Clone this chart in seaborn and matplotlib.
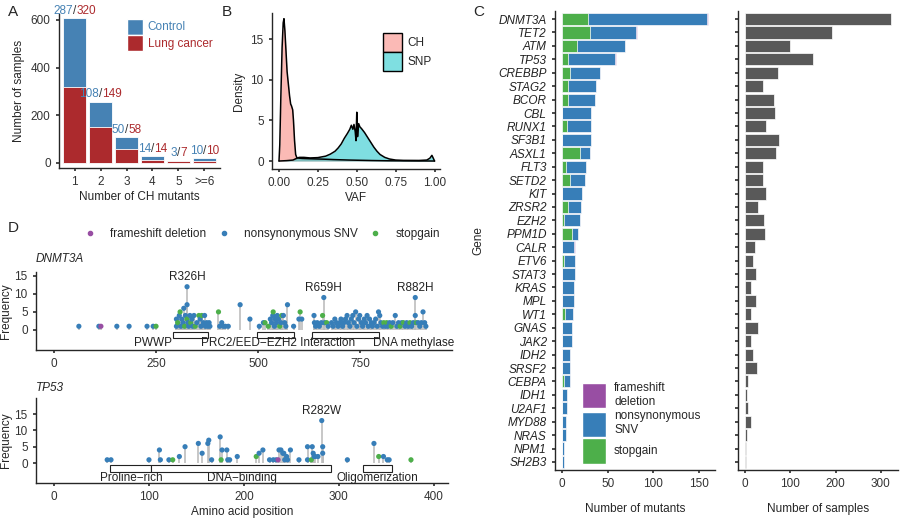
import pandas as pd
import matplotlib.pyplot as plt
import seaborn as sns
from matplotlib.patches import Patch, Rectangle
from matplotlib.lines import Line2D

# ---- Panel A: number of CH mutants per sample
ch_bins = ['1', '2', '3', '4', '5', '>=6']
control_n = [287, 108, 50, 14, 3, 10]
lung_n = [320, 149, 58, 14, 7, 10]

# ---- Panel B: VAF density curves
ch_vaf = [0.0, 0.005, 0.012, 0.02, 0.027, 0.032, 0.038, 0.045, 0.052, 0.06, 0.068, 0.075,
          0.08, 0.088, 0.093, 0.1, 0.107, 0.115, 0.13, 0.15, 0.2, 0.25, 0.3, 0.35, 0.4,
          0.45, 0.5, 0.6, 0.7, 0.8, 0.9, 1.0]
ch_dens = [0.0, 2.0, 8.0, 14.0, 17.0, 17.5, 16.0, 13.5, 11.0, 9.5, 8.0, 7.0,
           6.8, 6.3, 5.0, 2.5, 0.8, 0.4, 0.35, 0.32, 0.28, 0.25, 0.22, 0.18, 0.15,
           0.12, 0.1, 0.06, 0.03, 0.02, 0.01, 0.0]
snp_vaf = [0.0, 0.05, 0.09, 0.11, 0.13, 0.16, 0.2, 0.25, 0.3, 0.33, 0.36, 0.38, 0.4,
           0.42, 0.44, 0.455, 0.465, 0.475, 0.482, 0.49, 0.495, 0.5, 0.505, 0.512,
           0.52, 0.53, 0.55, 0.57, 0.59, 0.61, 0.63, 0.65, 0.68, 0.71, 0.75, 0.8,
           0.9, 0.95, 0.97, 0.983, 0.993, 1.0]
snp_dens = [0.0, 0.05, 0.12, 0.3, 0.45, 0.45, 0.38, 0.42, 0.6, 0.85, 1.2, 1.6, 2.1,
            2.8, 3.4, 3.9, 4.4, 3.9, 4.5, 3.6, 2.5, 6.0, 3.0, 4.6, 4.2, 4.0, 3.5,
            2.9, 2.3, 1.7, 1.2, 0.8, 0.45, 0.25, 0.12, 0.08, 0.07, 0.12, 0.35,
            0.7, 0.3, 0.0]

# ---- Panel C: mutated genes
genes = ['DNMT3A', 'TET2', 'ATM', 'TP53', 'CREBBP', 'STAG2', 'BCOR', 'CBL', 'RUNX1',
         'SF3B1', 'ASXL1', 'FLT3', 'SETD2', 'KIT', 'ZRSR2', 'EZH2', 'PPM1D', 'CALR',
         'ETV6', 'STAT3', 'KRAS', 'MPL', 'WT1', 'GNAS', 'JAK2', 'IDH2', 'SRSF2',
         'CEBPA', 'IDH1', 'U2AF1', 'MYD88', 'NRAS', 'NPM1', 'SH2B3']
n_stopgain = [28, 31, 16, 6, 9, 6, 6, 0, 5, 0, 19, 4, 8, 0, 6, 2, 11, 0,
              2, 0, 0, 0, 3, 0, 0, 0, 0, 2, 0, 0, 0, 0, 0, 0]
n_nonsyn = [131, 50, 53, 52, 33, 31, 30, 32, 27, 32, 11, 22, 17, 22, 15, 17, 6, 13,
            12, 14, 13, 13, 9, 11, 11, 9, 9, 6, 5, 5, 4, 4, 2, 2]
n_frameshift = [1, 1, 0, 1, 0, 0, 0, 0, 0, 0, 0, 0, 0, 0, 0, 0, 0, 1,
                0, 0, 0, 0, 0, 0, 0, 0, 0, 0, 0, 0, 0, 0, 0, 0]
n_samples = [322, 192, 100, 150, 73, 40, 64, 65, 45, 74, 67, 40, 40, 46, 28, 41, 43, 21,
             18, 23, 12, 24, 12, 29, 12, 18, 25, 7, 4, 6, 13, 4, 1.5, 1.5]

# ---- Panel D: lollipops (n = nonsynonymous SNV, s = stopgain, f = frameshift deletion)
dnmt3a_pos = [61, 110, 115, 154, 184, 228, 243, 250,
              300, 300, 303, 307, 309, 311, 313, 316, 318, 320, 322, 326, 326, 326, 328,
              330, 333, 335, 338, 340, 343, 346, 350, 355, 358, 360, 362, 366, 369, 371,
              374, 377, 380, 382,
              403, 406, 411, 415, 420, 427, 456, 480,
              503, 513, 517, 525, 530, 533, 536, 537, 540, 542, 545, 547, 550, 553, 556,
              558, 562, 565, 568, 572, 587, 600, 603, 607,
              637, 638, 641, 645, 650, 655, 658, 661, 663, 668, 672, 680, 684, 688, 692,
              696, 700, 703, 707, 710, 714, 718, 721, 725, 728, 732, 735, 739, 742, 746,
              749, 753, 756, 760, 763, 767, 770, 773, 777, 780, 784, 788, 792, 795, 798,
              801, 805, 808, 812, 815, 818, 822, 826, 830, 836, 840, 844, 848, 852, 856,
              860, 864, 868, 872, 876, 880, 885, 885, 888, 892, 896, 900, 904, 908, 911]
dnmt3a_freq = [1, 1, 1, 1, 1, 1, 1, 1,
               1, 3, 2, 4, 5, 1, 3, 2, 6, 1, 4, 12, 7, 3, 2,
               1, 4, 2, 3, 1, 4, 1, 2, 4, 3, 1, 4, 2, 4, 1,
               2, 1, 2, 1,
               5, 1, 2, 1, 1, 1, 7, 3,
               1, 2, 2, 1, 3, 2, 4, 5, 1, 3, 2, 4, 3, 1, 2,
               4, 4, 2, 1, 7, 1, 3, 5, 3,
               4, 2, 1, 2, 1, 2, 4, 9, 2, 2, 1, 2, 1, 3, 2,
               1, 2, 3, 1, 2, 3, 4, 2, 1, 3, 4, 2, 5, 1, 3,
               4, 2, 1, 3, 2, 4, 1, 3, 2, 1, 2, 3, 1, 5, 4,
               2, 1, 2, 1, 2, 1, 2, 1, 2, 4, 1, 2, 1, 2, 2,
               1, 2, 1, 2, 1, 2, 9, 4, 2, 2, 1, 2, 5, 2, 1]
dnmt3a_type = list('nnfnnnns'
                   'nnsnsnnnnsnnnsn'
                   'nnsnnnsnsnnsnnn'
                   'nnnn'
                   'snnnnnnn'
                   'nnssnnnsnnnnnsn'
                   'snnnnnnsn'
                   'nnnnnnsnnsnnnnn'
                   'nnnnnnnnnnnnnnn'
                   'nnnnnnnnnnnnnnn'
                   'nnsnsnnsnnnnsns'
                   'nnnsnnnnsnnnnnn')
dnmt3a_domains = ['PWWP', 'PRC2/EED\u2212EZH2 Interaction', 'DNA methylase']
dnmt3a_dom_start = [292, 497, 632]
dnmt3a_dom_end = [377, 588, 797]
dnmt3a_hotspots = ['R326H', 'R659H', 'R882H']
dnmt3a_hot_pos = [326, 661, 885]
dnmt3a_hot_freq = [12, 9, 9]

tp53_pos = [56, 60, 100, 111, 112, 121, 125, 132, 138, 152, 156, 162, 163, 166, 175,
            176, 177, 182, 183, 185, 193, 213, 216, 220, 227, 231, 234, 236, 237, 239,
            241, 242, 243, 245, 246, 249, 258, 267, 267, 271, 272, 273, 274, 275, 278,
            282, 283, 283, 309, 337, 342, 347, 351, 353, 376]
tp53_freq = [1, 1, 1, 4, 1, 1, 1, 2, 5, 6, 3, 6, 7, 1, 8,
             1, 4, 4, 1, 1, 2, 2, 3, 4, 1, 1, 1, 1, 4, 4,
             3, 3, 1, 2, 1, 4, 1, 5, 1, 1, 5, 3, 2, 2, 2,
             13, 5, 3, 1, 6, 2, 2, 1, 1, 1]
tp53_type = list('nnnnnnsnnnnnnnn'
                 'snnnnnsnnnnnfnn'
                 'nnnnnnnnnsnnnnn'
                 'nnnnnsnnns')
tp53_domains = ['Proline\u2212rich', 'DNA\u2212binding', 'Oligomerization']
tp53_dom_start = [59, 102, 325]
tp53_dom_end = [102, 292, 356]
tp53_hotspots = ['R282W']
tp53_hot_pos = [282]
tp53_hot_freq = [13]

# ---- style
sns.set_theme(style="ticks")
plt.rcParams['font.family'] = ['Liberation Sans', 'DejaVu Sans']
plt.rcParams['axes.linewidth'] = 1.0
plt.rcParams['xtick.major.size'] = 2.5
plt.rcParams['ytick.major.size'] = 2.5
plt.rcParams['xtick.labelsize'] = 8.5
plt.rcParams['ytick.labelsize'] = 8.5
plt.rcParams['xtick.color'] = '#333333'
plt.rcParams['ytick.color'] = '#333333'
plt.rcParams['axes.labelsize'] = 8.5

W, H = 900, 519
fig = plt.figure(figsize=(9, 5.19), dpi=100)


def px_axes(x0, y0, x1, y1):
    return fig.add_axes([x0 / W, 1 - y1 / H, (x1 - x0) / W, (y1 - y0) / H])


BLUE_A, RED_A = '#4682B4', '#AC2A2D'
C_FS, C_NS, C_SG = '#984EA3', '#377EB8', '#4DAF4A'
type_names = {'f': 'frameshift deletion', 'n': 'nonsynonymous SNV', 's': 'stopgain'}
type_pal = {'frameshift deletion': C_FS, 'nonsynonymous SNV': C_NS, 'stopgain': C_SG}

# ---------------- Panel A
axA = px_axes(59, 14, 220, 168)
dfA = pd.DataFrame({'bin': ch_bins, 'control': control_n, 'lung': lung_n})
dfA['total'] = dfA['control'] + dfA['lung']
sns.barplot(data=dfA, x='bin', y='total', color=BLUE_A, saturation=1, width=0.9,
            edgecolor='white', linewidth=0.6, ax=axA)
sns.barplot(data=dfA, x='bin', y='lung', color=RED_A, saturation=1, width=0.9,
            edgecolor='white', linewidth=0.6, ax=axA)
for i, r in dfA.iterrows():
    axA.annotate('/', (i, r['total']), xytext=(0, 1), textcoords='offset points',
                 ha='center', va='bottom', fontsize=8.5, color='#333333')
    axA.annotate(str(r['control']), (i, r['total']), xytext=(-1.1, 1), textcoords='offset points',
                 ha='right', va='bottom', fontsize=8.5, color=BLUE_A)
    axA.annotate(str(r['lung']), (i, r['total']), xytext=(1.1, 1), textcoords='offset points',
                 ha='left', va='bottom', fontsize=8.5, color=RED_A)
axA.set_xlim(-0.6, 5.6)
axA.set_ylim(-21, 625)
axA.set_yticks([0, 200, 400, 600])
axA.set_xlabel('Number of CH mutants', labelpad=2)
axA.set_ylabel('Number of samples')
axA.legend(handles=[Patch(facecolor=BLUE_A, edgecolor='white'),
                    Patch(facecolor=RED_A, edgecolor='white')],
           labels=['Control', 'Lung cancer'], labelcolor=[BLUE_A, RED_A],
           loc='upper left', bbox_to_anchor=(0.42, 0.97), frameon=False, fontsize=8.5,
           handlelength=1.4, handleheight=1.7, labelspacing=0.05, handletextpad=0.4,
           borderpad=0, borderaxespad=0)
sns.despine(ax=axA)

# ---------------- Panel B
axB = px_axes(272, 13, 440, 169)
dfB1 = pd.DataFrame({'vaf': ch_vaf, 'dens': ch_dens})
dfB2 = pd.DataFrame({'vaf': snp_vaf, 'dens': snp_dens})
axB.fill_between(dfB1['vaf'], dfB1['dens'], color='#F8766D', alpha=0.5, lw=0)
sns.lineplot(data=dfB1, x='vaf', y='dens', color='black', lw=1.1, ax=axB)
axB.fill_between(dfB2['vaf'], dfB2['dens'], color='#00BFC4', alpha=0.5, lw=0)
sns.lineplot(data=dfB2, x='vaf', y='dens', color='black', lw=1.1, ax=axB)
axB.set_xlim(-0.045, 1.035)
axB.set_ylim(-0.98, 18.2)
axB.set_xticks([0, 0.25, 0.5, 0.75, 1.0])
axB.set_xticklabels(['0.00', '0.25', '0.50', '0.75', '1.00'])
axB.set_yticks([0, 5, 10, 15])
axB.set_xlabel('VAF', labelpad=2)
axB.set_ylabel('Density')
axB.legend(handles=[Patch(facecolor='#FBBAB6', edgecolor='black', lw=1),
                    Patch(facecolor='#7FDFE1', edgecolor='black', lw=1)],
           labels=['CH', 'SNP'], loc='upper left', bbox_to_anchor=(0.66, 0.875),
           frameon=False, fontsize=8.5, handlelength=1.6, handleheight=2.1,
           labelspacing=0.0, handletextpad=0.45, borderpad=0, borderaxespad=0)
sns.despine(ax=axB)

# ---------------- Panel C (left: mutations by type)
axC1 = px_axes(555, 11, 715, 470)
dfC = pd.DataFrame({'gene': genes, 'sg': n_stopgain, 'ns': n_nonsyn, 'fs': n_frameshift,
                    'samples': n_samples})
dfC['total'] = dfC['sg'] + dfC['ns'] + dfC['fs']
dfC['sg_ns'] = dfC['sg'] + dfC['ns']
for col, c in [('total', C_FS), ('sg_ns', C_NS), ('sg', C_SG)]:
    sns.barplot(data=dfC, y='gene', x=col, order=genes, color=c, saturation=1, width=0.9,
                edgecolor='white', linewidth=0.5, orient='h', ax=axC1)
axC1.set_ylim(33.6, -0.6)
axC1.set_xlim(-8, 168)
axC1.set_xticks([0, 50, 100, 150])
axC1.set_yticks(range(len(genes)))
axC1.set_yticklabels(genes, fontstyle='italic', fontsize=8.5, color='#222222')
axC1.set_xlabel('Number of mutants', labelpad=9)
axC1.set_ylabel('Gene', labelpad=10)
axC1.legend(handles=[Patch(facecolor=C_FS, edgecolor='white'),
                     Patch(facecolor=C_NS, edgecolor='white'),
                     Patch(facecolor=C_SG, edgecolor='white')],
            labels=['frameshift\ndeletion', 'nonsynonymous\nSNV', 'stopgain'],
            loc='lower left', bbox_to_anchor=(0.17, 0.014), frameon=False, fontsize=8.5,
            handlelength=2.0, handleheight=2.9, labelspacing=0.15, handletextpad=0.7,
            borderpad=0, borderaxespad=0)
sns.despine(ax=axC1)

# ---------------- Panel C (right: samples)
axC2 = px_axes(738, 11, 898, 470)
sns.barplot(data=dfC, y='gene', x='samples', order=genes, color='#595959', saturation=1,
            width=0.9, edgecolor='white', linewidth=0.5, orient='h', ax=axC2)
axC2.set_ylim(33.6, -0.6)
axC2.set_xlim(-16, 338)
axC2.set_xticks([0, 100, 200, 300])
axC2.set_yticks(range(len(genes)))
axC2.set_yticklabels([])
axC2.set_ylabel('')
axC2.set_xlabel('Number of samples', labelpad=9)
sns.despine(ax=axC2)


# ---------------- Panel D (lollipops)
def lollipop(ax, pos, freq, types, dom_names, dom_start, dom_end, dom_label_x, box_y,
             label_y, hot_names, hot_pos, hot_freq):
    df = pd.DataFrame({'pos': pos, 'freq': freq, 'type': [type_names[t] for t in types]})
    ax.vlines(df['pos'], 0, df['freq'], color='#BDBDBD', lw=1.2, zorder=1)
    sns.scatterplot(data=df, x='pos', y='freq', hue='type', palette=type_pal, s=14,
                    linewidth=0, legend=False, ax=ax, zorder=3)
    for name, a, b, lx in zip(dom_names, dom_start, dom_end, dom_label_x):
        ax.add_patch(Rectangle((a, box_y[0]), b - a, box_y[1] - box_y[0], facecolor='white',
                               edgecolor='#222222', lw=0.8, zorder=2))
        ax.text(lx, label_y, name, ha='center', va='center', fontsize=8.5, color='#222222')
    for name, p, f in zip(hot_names, hot_pos, hot_freq):
        ax.annotate(name, (p, f), xytext=(0, 2.5), textcoords='offset points', ha='center',
                    va='bottom', fontsize=8.5, color='#222222')
    ax.set_xlabel('')
    ax.set_ylabel('Frequency', labelpad=2)
    ax.set_yticks([0, 5, 10, 15])
    sns.despine(ax=ax)


axD1 = px_axes(36, 272, 452, 350)
lollipop(axD1, dnmt3a_pos, dnmt3a_freq, dnmt3a_type, dnmt3a_domains, dnmt3a_dom_start,
         dnmt3a_dom_end, [243, 549, 882], (-2.2, -0.6), -3.7,
         dnmt3a_hotspots, dnmt3a_hot_pos, dnmt3a_hot_freq)
axD1.set_xlim(-44, 975)
axD1.set_ylim(-5.6, 16.1)
axD1.set_xticks([0, 250, 500, 750])
axD1.set_title('DNMT3A', loc='left', fontstyle='italic', fontsize=8.5, pad=7)

axD2 = px_axes(36, 398, 448, 483)
lollipop(axD2, tp53_pos, tp53_freq, tp53_type, tp53_domains, tp53_dom_start,
         tp53_dom_end, [81, 198, 341], (-2.75, -0.6), -4.6,
         tp53_hotspots, tp53_hot_pos, tp53_hot_freq)
axD2.set_xlim(-19, 415)
axD2.set_ylim(-6.1, 19.9)
axD2.set_xticks([0, 100, 200, 300, 400])
axD2.set_xlabel('Amino acid position', labelpad=2)
axD2.set_title('TP53', loc='left', fontstyle='italic', fontsize=8.5, pad=5)

fig.legend(handles=[Line2D([], [], ls='', marker='o', ms=3, color=type_pal[k])
                    for k in type_pal],
           labels=list(type_pal), loc='center', bbox_to_anchor=(262 / W, 1 - 234 / H),
           ncol=3, frameon=False, fontsize=8.5, handlelength=1.0, handletextpad=1.2,
           columnspacing=1.0)

# panel letters
for letter, x, y in [('A', 8, 12), ('B', 222, 12), ('C', 473, 12), ('D', 8, 228)]:
    fig.text(x / W, 1 - y / H, letter, fontsize=11, ha='left', va='center')

fig.savefig('out.png', dpi=100)
